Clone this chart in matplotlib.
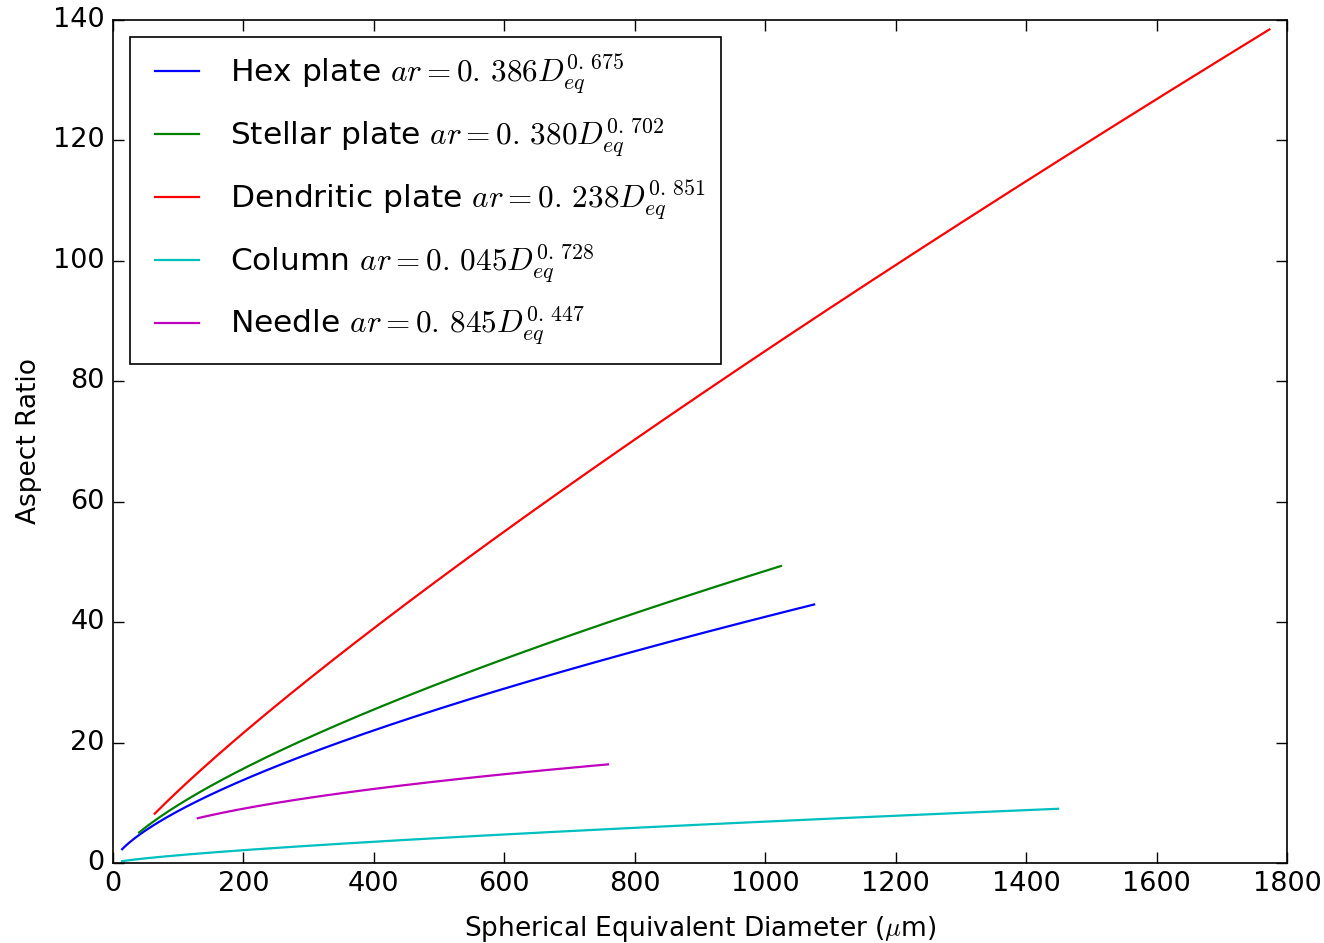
import numpy as np
import matplotlib
matplotlib.use("Agg")
import matplotlib.pyplot as plt

plt.style.use("classic")
plt.rcParams["mathtext.fontset"] = "cm"
plt.rcParams["font.family"] = ["DejaVu Sans"]

# Habit power-law fits: ar = coef * D_eq ** expo, over the fitted diameter range
habits = ["Hex plate", "Stellar plate", "Dendritic plate", "Column", "Needle"]
coefs = [0.386, 0.380, 0.238, 0.045, 0.845]
expos = [0.675, 0.702, 0.851, 0.728, 0.447]
coef_txt = ["0.\\,386", "0.\\,380", "0.\\,238", "0.\\,045", "0.\\,845"]
expo_txt = ["0.\\,675", "0.\\,702", "0.\\,851", "0.\\,728", "0.\\,447"]
d_min = [14, 40, 64, 14, 130]
d_max = [1075, 1024, 1773, 1449, 759]
colors = ["b", "g", "r", "c", "m"]

fig = plt.figure(figsize=(13.24, 9.43), dpi=100, facecolor="white")
ax = fig.add_axes([113 / 1324, 80 / 943, 1174 / 1324, 843 / 943])
ax.set_facecolor("white")

for name, a, b, at, bt, lo, hi, c in zip(habits, coefs, expos, coef_txt,
                                          expo_txt, d_min, d_max, colors):
    d = np.linspace(lo, hi, 400)
    label = name + r" $ar=" + at + r"D_{eq}^{" + bt + r"}$"
    ax.plot(d, a * d ** b, color=c, lw=1.6, label=label)

ax.set_xlim(0, 1800)
ax.set_ylim(0, 140)
ax.set_xticks(np.arange(0, 1801, 200))
ax.set_yticks(np.arange(0, 141, 20))
ax.tick_params(labelsize=19.5, length=8, width=1, pad=6)
for s in ax.spines.values():
    s.set_linewidth(1.2)

ax.set_xlabel(r"Spherical Equivalent Diameter ($\mu$m)", fontsize=19, labelpad=12)
ax.set_ylabel("Aspect Ratio", fontsize=19, labelpad=8)

leg = ax.legend(loc="upper left", fontsize=22.5, frameon=True, fancybox=False,
                handlelength=2.0, handletextpad=0.7, labelspacing=0.62,
                borderpad=0.5, borderaxespad=0.55)
leg.get_frame().set_edgecolor("black")
leg.get_frame().set_linewidth(1.2)

fig.savefig("out.png", dpi=100, facecolor="white")
